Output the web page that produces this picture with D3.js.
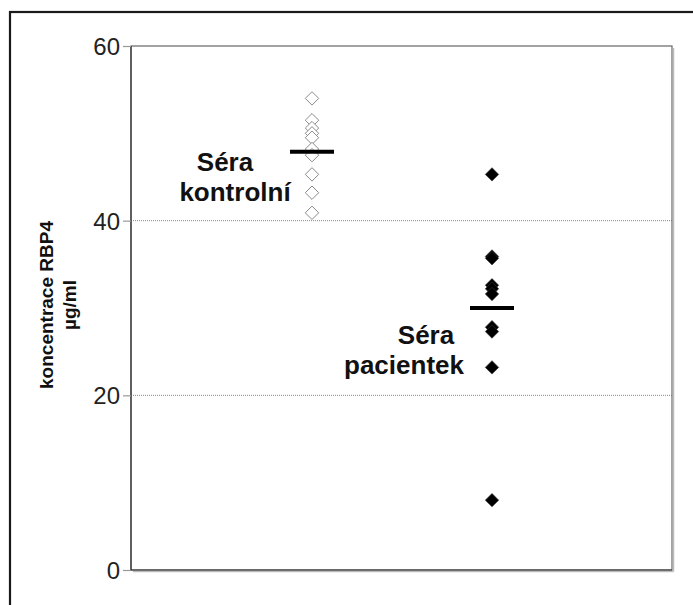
<!DOCTYPE html>
<html><head><meta charset="utf-8">
<script src="https://cdn.jsdelivr.net/npm/d3@7"></script>
<style>body{margin:0;background:#fff}svg{display:block}text{font-family:"Liberation Sans",Arial,sans-serif}</style>
</head><body><svg id="c" width="693" height="605"></svg>
<script>
const groups = ["Séra kontrolní", "Séra pacientek"];
const controlValues = [54.0, 51.5, 50.6, 50.0, 49.5, 48.2, 47.5, 45.3, 43.2, 40.9];
const patientValues = [45.3, 35.9, 35.7, 32.6, 32.2, 31.6, 27.8, 27.3, 23.2, 8.0];
const means = [47.9, 30.0];
const yTicks = [0, 20, 40, 60];
const yLabel = ["koncentrace RBP4", "µg/ml"];

const svg = d3.select("#c");
const L = 131, R = 672, T = 46, B = 570;
const y = d3.scaleLinear().domain([0, 60]).range([B, T]);
const x = d3.scalePoint().domain(groups).range([312, 492]);

// outer frame
svg.append("rect").attr("x", 10).attr("y", 12).attr("width", 700).attr("height", 620)
  .attr("fill", "none").attr("stroke", "#1a1a1a").attr("stroke-width", 2.2);

// gridlines
svg.append("g").selectAll("line").data([20, 40]).join("line")
  .attr("x1", L).attr("x2", R).attr("y1", d => y(d)).attr("y2", d => y(d))
  .attr("stroke", "#888").attr("stroke-width", 1).attr("stroke-dasharray", "1,1");

// plot box
svg.append("rect").attr("x", L).attr("y", T).attr("width", R - L).attr("height", B - T)
  .attr("fill", "none").attr("stroke", "#666").attr("stroke-width", 1.2);
svg.append("line").attr("x1", R + 1.5).attr("x2", R + 1.5).attr("y1", T + 2).attr("y2", B + 1.5).attr("stroke", "#bbb").attr("stroke-width", 1.5);
svg.append("line").attr("x1", L + 2).attr("x2", R + 1.5).attr("y1", B + 1.5).attr("y2", B + 1.5).attr("stroke", "#bbb").attr("stroke-width", 1.5);
svg.append("line").attr("x1", L).attr("x2", L).attr("y1", T).attr("y2", B).attr("stroke", "#333").attr("stroke-width", 1.2);
svg.append("line").attr("x1", L).attr("x2", R).attr("y1", B).attr("y2", B).attr("stroke", "#333").attr("stroke-width", 1.2);

// y axis
const ax = svg.append("g").attr("transform", `translate(${L},0)`)
  .call(d3.axisLeft(y).tickValues(yTicks).tickSize(8).tickPadding(3).tickFormat(d3.format("d")));
ax.select(".domain").remove();
ax.selectAll(".tick line").attr("stroke", "#999").attr("stroke-width", 1.2);
ax.selectAll(".tick text").attr("font-size", 24).attr("fill", "#222")
  .attr("font-family", "'Liberation Sans',Arial,sans-serif").attr("dy", "0.36em");

// y label
const yl = svg.append("text").attr("transform", "translate(53,305) rotate(-90)")
  .attr("text-anchor", "middle").attr("font-size", 19).attr("font-weight", "bold").attr("fill", "#111");
yl.append("tspan").attr("x", 0).attr("dy", 0).text(yLabel[0]);
yl.append("tspan").attr("x", 0).attr("dy", 23).text(yLabel[1]);

// diamonds
const sym = d3.symbol().type(d3.symbolDiamond2).size(115);
svg.append("g").selectAll("path").data(controlValues).join("path")
  .attr("d", sym).attr("transform", d => `translate(${x(groups[0])},${y(d)})`)
  .attr("fill", "#fff").attr("stroke", "#8a8a8a").attr("stroke-width", 1);
svg.append("g").selectAll("path").data(patientValues).join("path")
  .attr("d", sym).attr("transform", d => `translate(${x(groups[1])},${y(d)})`)
  .attr("fill", "#000").attr("stroke", "#333").attr("stroke-width", 0.6);

// means
svg.append("g").selectAll("line").data(means).join("line")
  .attr("x1", (d, i) => x(groups[i]) - 22).attr("x2", (d, i) => x(groups[i]) + 22)
  .attr("y1", d => y(d)).attr("y2", d => y(d)).attr("stroke", "#000").attr("stroke-width", 4);

// group labels: [x line1, x line2, baseline line1]
const labelPos = [[225, 235, 171], [426, 404, 344]];
groups.forEach((g, i) => {
  const parts = g.split(" ");
  const t = svg.append("text").attr("text-anchor", "middle").attr("font-size", 26)
    .attr("font-weight", "bold").attr("fill", "#111");
  t.append("tspan").attr("x", labelPos[i][0]).attr("y", labelPos[i][2]).text(parts[0]);
  t.append("tspan").attr("x", labelPos[i][1]).attr("y", labelPos[i][2] + 30).text(parts[1]);
});
</script></body></html>
